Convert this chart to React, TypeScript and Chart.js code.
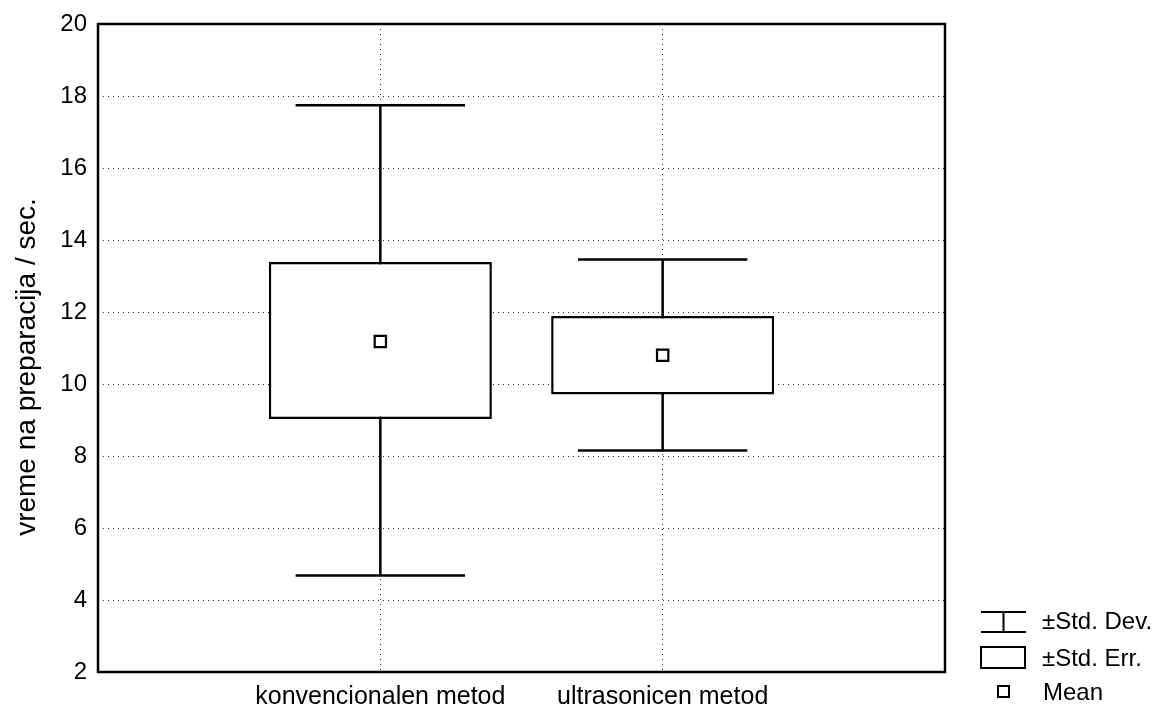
import React, { useEffect, useRef } from "react";
import { Chart, registerables } from "chart.js";

Chart.register(...registerables);

const categories = ["konvencionalen metod", "ultrasonicen metod"];
const means = [11.18, 10.8];
const seLow = [9.03, 9.71];
const seHigh = [13.39, 11.89];
const sdLow = [4.68, 8.15];
const sdHigh = [17.74, 13.46];
const yTicks = [2, 4, 6, 8, 10, 12, 14, 16, 18, 20];
const yTitle = "vreme na preparacija / sec.";
const legendLabels = ["±Std. Dev.", "±Std. Err.", "Mean"];

const FONT = "'Liberation Sans', Arial, sans-serif";
const CAP = 0.3;

const framePlugin = {
  id: "frameAndLegend",
  afterDraw(chart: any) {
    const { ctx, chartArea } = chart;
    const { left, top, right, bottom } = chartArea;
    ctx.save();
    ctx.strokeStyle = "#000";
    ctx.lineWidth = 2.5;
    ctx.strokeRect(left, top, right - left, bottom - top);

    // y title
    ctx.save();
    ctx.translate(19, 359);
    ctx.rotate(-Math.PI / 2);
    ctx.font = `28px ${FONT}`;
    ctx.fillStyle = "#000";
    ctx.textAlign = "center";
    ctx.textBaseline = "middle";
    ctx.fillText(yTitle, 0, 0);
    ctx.restore();

    // legend
    ctx.lineWidth = 2;
    ctx.strokeStyle = "#000";
    ctx.beginPath();
    ctx.moveTo(973, 604);
    ctx.lineTo(1018, 604);
    ctx.moveTo(995.5, 604);
    ctx.lineTo(995.5, 624);
    ctx.moveTo(973, 624);
    ctx.lineTo(1018, 624);
    ctx.stroke();
    ctx.strokeRect(973, 639, 44, 21);
    ctx.strokeRect(990, 678, 11, 11);
    ctx.font = `24px ${FONT}`;
    ctx.fillStyle = "#000";
    ctx.textAlign = "left";
    ctx.textBaseline = "middle";
    ctx.fillText(legendLabels[0], 1034, 614);
    ctx.fillText(legendLabels[1], 1034, 651);
    ctx.fillText(legendLabels[2], 1035, 685);
    ctx.restore();
  },
};

export default function App() {
  const ref = useRef<HTMLCanvasElement | null>(null);
  useEffect(() => {
    if (!ref.current) return;
    const whiskerPts: any[] = [];
    categories.forEach((_, i) => {
      const x = i + 1;
      whiskerPts.push({ x, y: sdLow[i] }, { x, y: sdHigh[i] }, { x, y: null });
      whiskerPts.push({ x: x - CAP, y: sdHigh[i] }, { x: x + CAP, y: sdHigh[i] }, { x, y: null });
      whiskerPts.push({ x: x - CAP, y: sdLow[i] }, { x: x + CAP, y: sdLow[i] }, { x, y: null });
    });
    const chart = new Chart(ref.current, {
      type: "bar",
      data: {
        datasets: [
          {
            type: "line",
            data: whiskerPts,
            borderColor: "#000",
            borderWidth: 2.5,
            pointRadius: 0,
            spanGaps: false,
            fill: false,
            order: 3,
          } as any,
          {
            type: "bar",
            data: categories.map((_, i) => ({ x: i + 1, y: [seLow[i], seHigh[i]] })),
            backgroundColor: "#fff",
            borderColor: "#000",
            borderWidth: 2.5,
            borderSkipped: false,
            barPercentage: 0.79,
            categoryPercentage: 1,
            grouped: false,
            order: 2,
          } as any,
          {
            type: "scatter",
            data: categories.map((_, i) => ({ x: i + 1, y: means[i] })),
            pointStyle: "rect",
            pointRadius: 8,
            pointBackgroundColor: "#fff",
            pointBorderColor: "#000",
            pointBorderWidth: 2.2,
            order: 1,
          } as any,
        ],
      },
      options: {
        animation: false,
        responsive: true,
        maintainAspectRatio: false,
        layout: { padding: { left: 0, top: 16, right: 205, bottom: 0 } },
        plugins: { legend: { display: false }, tooltip: { enabled: false } },
        scales: {
          x: {
            type: "linear",
            min: 0,
            max: 3,
            offset: false,
            afterBuildTicks: (s: any) => {
              s.ticks = categories.map((_, i) => ({ value: i + 1 }));
            },
            afterFit: (s: any) => {
              s.height = 38;
              s.paddingLeft = 0;
              s.paddingRight = 0;
            },
            ticks: {
              callback: (v: any) => categories[Number(v) - 1] ?? "",
              font: { family: FONT, size: 25 },
              color: "#000",
              padding: 10,
              maxRotation: 0,
              autoSkip: false,
            },
            grid: { color: "#333", lineWidth: 1, drawTicks: false, offset: false },
            border: { display: false, dash: [1, 4] },
          },
          y: {
            type: "linear",
            min: 2,
            max: 20,
            afterBuildTicks: (s: any) => {
              s.ticks = yTicks.map((v) => ({ value: v }));
            },
            afterFit: (s: any) => {
              s.width = 90;
              s.paddingTop = 0;
              s.paddingBottom = 0;
            },
            ticks: {
              font: { family: FONT, size: 24 },
              color: "#000",
              padding: 11,
            },
            grid: { color: "#333", lineWidth: 1, drawTicks: false },
            border: { display: false, dash: [1, 4] },
          },
        },
      },
      plugins: [framePlugin],
    });
    return () => chart.destroy();
  }, []);
  return (
    <div style={{ width: "100%", height: "702px", position: "relative" }}>
      <canvas ref={ref} />
    </div>
  );
}
